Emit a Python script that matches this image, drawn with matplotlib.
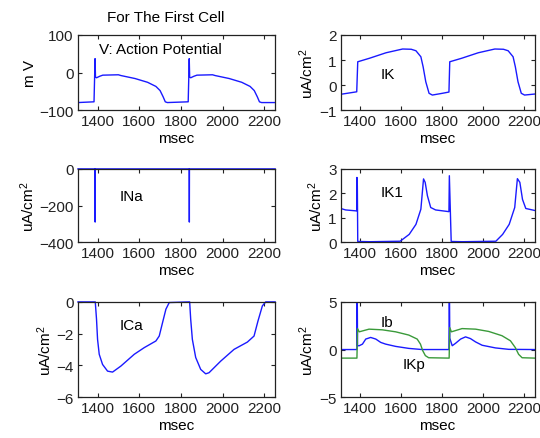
import matplotlib
matplotlib.use("Agg")
import matplotlib.pyplot as plt

plt.rcParams["font.family"] = ["Liberation Sans", "DejaVu Sans"]
plt.rcParams["font.size"] = 11
plt.rcParams["mathtext.default"] = "regular"

BLUE = "#1a1aff"
GREEN = "#3a9a3a"
XLIM = (1306, 2252)
XTICKS = [1400, 1600, 1800, 2000, 2200]

# V: action potential (mV)
v_t = [1306, 1383, 1388, 1390, 1395, 1410, 1425, 1500, 1512, 1580, 1640, 1680,
       1700, 1715, 1725, 1735, 1835, 1840, 1842, 1847, 1862, 1877, 1952, 1964,
       2032, 2092, 2132, 2152, 2167, 2177, 2187, 2252]
v_v = [-80, -78, 37, -12, -14, -10, -7, -6, -8, -16, -26, -37,
       -48, -65, -78, -80, -78, 37, -12, -14, -10, -7, -6, -8,
       -16, -26, -37, -48, -65, -78, -80, -80]

# IK
ik_t = [1306, 1384, 1389, 1446, 1527, 1608, 1650, 1673, 1697, 1708, 1721, 1737,
        1753, 1802, 1834, 1838, 1896, 1977, 2058, 2100, 2123, 2147, 2158, 2171,
        2187, 2203, 2252]
ik_v = [-0.37, -0.27, 0.93, 1.07, 1.29, 1.44, 1.43, 1.37, 1.13, 0.73, 0.13, -0.33,
        -0.40, -0.33, -0.28, 0.93, 1.07, 1.29, 1.44, 1.43, 1.37, 1.13, 0.73, 0.13,
        -0.33, -0.40, -0.36]

# INa
ina_t = [1306, 1388, 1388.5, 1389, 1840, 1840.5, 1841, 2252]
ina_v = [0, 0, -290, 0, 0, -290, 0, 0]

# IK1
ik1_t = [1306, 1330, 1384, 1385, 1387, 1389, 1450, 1596, 1640, 1673, 1697, 1710,
         1718, 1729, 1745, 1769, 1834, 1836, 1845, 1900, 2063, 2096, 2128, 2155,
         2168, 2180, 2193, 2209, 2252]
ik1_v = [1.38, 1.32, 1.28, 2.65, 2.3, 0.03, 0.02, 0.04, 0.32, 0.73, 1.35, 2.59,
         2.45, 1.9, 1.42, 1.32, 1.25, 2.72, 0.03, 0.02, 0.04, 0.32, 0.73, 1.42,
         2.6, 2.45, 1.75, 1.38, 1.3]

# ICa
ica_t = [1306, 1389, 1395, 1400, 1408, 1424, 1448, 1472, 1512, 1576, 1624, 1680,
         1696, 1712, 1728, 1744, 1842, 1847, 1855, 1871, 1895, 1919, 1935, 1991,
         2055, 2119, 2151, 2170, 2191, 2207, 2252]
ica_v = [0, 0, -1.09, -2.36, -3.3, -3.94, -4.36, -4.42, -4.04, -3.3, -2.88, -2.46,
         -2.15, -1.3, -0.46, -0.04, 0, -1.09, -2.36, -3.5, -4.25, -4.53, -4.46, -3.73,
         -2.99, -2.53, -2.15, -1.2, -0.25, 0, 0]

# IKp (blue) and Ib (green)
ikp_t = [1306, 1385, 1386, 1388, 1396, 1412, 1428, 1452, 1477, 1501, 1525, 1574,
         1638, 1703, 1834, 1836, 1838, 1850, 1866, 1891, 1915, 1939, 1964, 1996,
         2061, 2126, 2252]
ikp_v = [0, 0, 8, 0.4, 0.4, 0.57, 1.1, 1.27, 1.1, 0.75, 0.57, 0.33,
         0.12, 0, 0, 8, 1.2, 0.4, 0.65, 1.1, 1.33, 1.15, 0.8, 0.45,
         0.17, 0.02, 0]
ib_t = [1306, 1385, 1388, 1396, 1444, 1509, 1574, 1638, 1679, 1695, 1706, 1719,
        1735, 1835, 1838, 1846, 1898, 1964, 2028, 2093, 2134, 2158, 2174, 2191, 2252]
ib_v = [-0.9, -0.9, 2.2, 1.86, 2.14, 2.07, 1.86, 1.52, 1.1, 0.57, -0.12, -0.64,
        -0.86, -0.9, 2.3, 1.86, 2.2, 2.14, 1.9, 1.45, 0.92, 0.2, -0.5, -0.86, -0.9]


def style(ax, ylim, yticks, ylabel):
    ax.set_xlim(*XLIM)
    ax.set_ylim(*ylim)
    ax.set_xticks(XTICKS)
    ax.set_yticks(yticks)
    ax.set_xlabel("msec", labelpad=2)
    ax.set_ylabel(ylabel, labelpad=2)
    ax.tick_params(direction="in", length=3, width=0.8, top=True, right=True,
                   colors="#222222", labelsize=11, pad=3)
    for s in ax.spines.values():
        s.set_linewidth(0.9)
        s.set_color("#222222")


fig = plt.figure(figsize=(5.4, 4.39), dpi=100)
L, R = 0.1444, 0.631
W_L, W_R = 0.365, 0.359
rows = [(0.747, 0.171), (0.446, 0.167), (0.093, 0.217)]
UA = "uA/cm$^{2}$"

ax = fig.add_axes([L, rows[0][0], W_L, rows[0][1]])
ax.plot(v_t, v_v, color=BLUE, lw=1.0)
style(ax, (-100, 100), [-100, 0, 100], "m V")
ax.text(1407, 63, "V: Action Potential", va="center", ha="left")

ax = fig.add_axes([R, rows[0][0], W_R, rows[0][1]])
ax.plot(ik_t, ik_v, color=BLUE, lw=1.0)
style(ax, (-1, 2), [-1, 0, 1, 2], UA)
ax.text(1503, 0.45, "IK", va="center", ha="left")

ax = fig.add_axes([L, rows[1][0], W_L, rows[1][1]])
ax.plot(ina_t, ina_v, color=BLUE, lw=1.0, clip_on=False)
style(ax, (-400, 0), [-400, -200, 0], UA)
ax.text(1508, -147, "INa", va="center", ha="left")

ax = fig.add_axes([R, rows[1][0], W_R, rows[1][1]])
ax.plot(ik1_t, ik1_v, color=BLUE, lw=1.0)
style(ax, (0, 3), [0, 1, 2, 3], UA)
ax.text(1503, 2.04, "IK1", va="center", ha="left")

ax = fig.add_axes([L, rows[2][0], W_L, rows[2][1]])
ax.plot(ica_t, ica_v, color=BLUE, lw=1.0, clip_on=False)
style(ax, (-6, 0), [-6, -4, -2, 0], UA)
ax.text(1508, -1.47, "ICa", va="center", ha="left")

ax = fig.add_axes([R, rows[2][0], W_R, rows[2][1]])
ax.plot(ikp_t, ikp_v, color=BLUE, lw=1.0)
ax.plot(ib_t, ib_v, color=GREEN, lw=1.0)
style(ax, (-5, 5), [-5, 0, 5], UA)
ax.text(1499, 2.94, "Ib", va="center", ha="left")
ax.text(1608, -1.52, "IKp", va="center", ha="left")

fig.text(166 / 540, 1 - 18 / 439, "For The First Cell", ha="center", va="center")

fig.savefig("out.png", dpi=100)
